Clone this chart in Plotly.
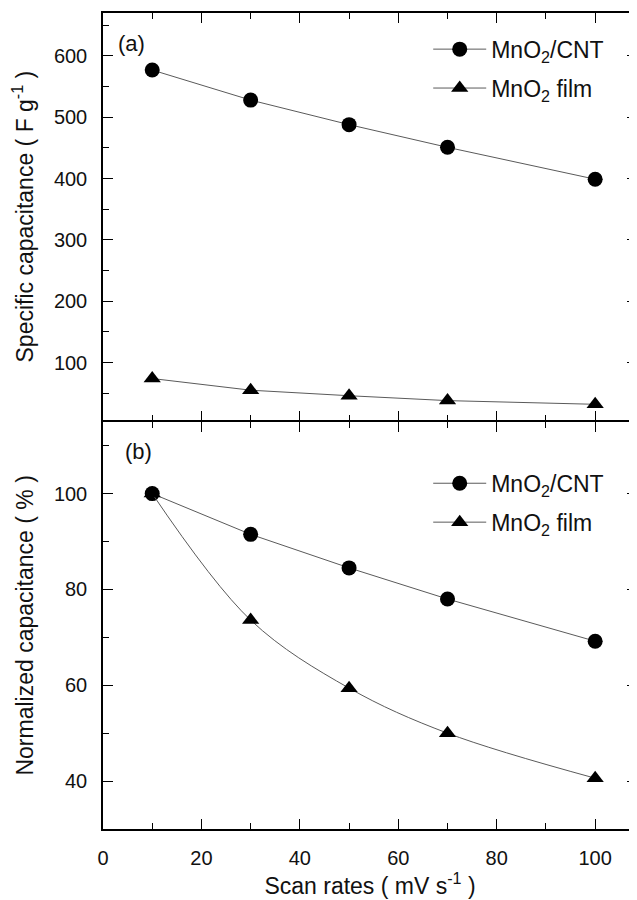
import plotly.graph_objects as go
from plotly.subplots import make_subplots

# Data
scan_rates = [10, 30, 50, 70, 100]
cnt_specific = [577, 528, 488, 451, 399]
film_specific = [74, 55, 46, 38, 32]
cnt_normalized = [100, 91.5, 84.5, 78, 69.2]
film_normalized = [100, 73.6, 59.4, 50, 40.6]

x_tickvals = [0, 20, 40, 60, 80, 100]
top_y_tickvals = [100, 200, 300, 400, 500, 600]
bot_y_tickvals = [40, 60, 80, 100]

FONT = "Liberation Sans, Arial, sans-serif"
LINE_COLOR = "#5a5a5a"

# the page body keeps its default 8px margin, so the figure is sized to fill the rest
FIG_W, FIG_H = 629, 892

fig = make_subplots(rows=2, cols=1, shared_xaxes=True, vertical_spacing=1.5 / 816)

def add(x, y, name, symbol, row, legend, shape="linear"):
    fig.add_trace(go.Scatter(
        x=x, y=y, name=name, mode="lines+markers",
        line=dict(color=LINE_COLOR, width=1, shape=shape),
        marker=dict(symbol=symbol, size=15, color="black", line=dict(width=0)),
        legend=legend, legendgroup=name + legend,
    ), row=row, col=1)

add(scan_rates, cnt_specific, "MnO<sub>2</sub>/CNT", "circle", 1, "legend")
add(scan_rates, film_specific, "MnO<sub>2</sub> film", "triangle-up", 1, "legend")
add(scan_rates, cnt_normalized, "MnO<sub>2</sub>/CNT", "circle", 2, "legend2")
add(scan_rates, film_normalized, "MnO<sub>2</sub> film", "triangle-up", 2, "legend2", shape="spline")

axis_common = dict(
    showline=True, linecolor="black", linewidth=1.5, mirror="ticks",
    ticks="inside", ticklen=10, tickwidth=1.3, tickcolor="black",
    showgrid=False, zeroline=False, automargin=False,
    tickfont=dict(family=FONT, size=20, color="#111"),
    ticklabelstandoff=10,
)

fig.update_xaxes(**axis_common, range=[0, 108.5], tickvals=x_tickvals,
                 minor=dict(dtick=10, ticklen=6, tickwidth=1.3, tickcolor="black", ticks="inside"))
fig.update_xaxes(showticklabels=False, row=1, col=1)
fig.update_xaxes(title=dict(text="Scan rates ( mV s<sup>-1</sup> )",
                            font=dict(family=FONT, size=23, color="#111"), standoff=10),
                 row=2, col=1)

fig.update_yaxes(**axis_common)
fig.update_yaxes(range=[6, 670], tickvals=top_y_tickvals,
                 minor=dict(dtick=50, ticklen=6, tickwidth=1.3, tickcolor="black", ticks="inside"),
                 title=dict(text="Specific capacitance ( F g<sup>-1</sup> )",
                            font=dict(family=FONT, size=23, color="#111"), standoff=14),
                 row=1, col=1)
fig.update_yaxes(range=[30, 115], tickvals=bot_y_tickvals,
                 minor=dict(dtick=10, ticklen=6, tickwidth=1.3, tickcolor="black", ticks="inside"),
                 title=dict(text="Normalized capacitance ( % )",
                            font=dict(family=FONT, size=23, color="#111"), standoff=14),
                 row=2, col=1)

legend_common = dict(
    xanchor="left", yanchor="top", bgcolor="rgba(0,0,0,0)",
    font=dict(family=FONT, size=23, color="#111"), tracegroupgap=6,
    itemwidth=53,
)
fig.update_layout(
    width=FIG_W, height=FIG_H,
    margin=dict(l=95, r=0, t=5, b=71),
    plot_bgcolor="white", paper_bgcolor="white",
    showlegend=True,
    legend=dict(**legend_common, x=0.609, y=0.982),
    legend2=dict(**legend_common, x=0.609, y=0.450),
    annotations=[
        dict(text="(a)", xref="paper", yref="paper", x=0.024, y=0.980, xanchor="left",
             yanchor="top", showarrow=False, font=dict(family=FONT, size=22, color="#111")),
        dict(text="(b)", xref="paper", yref="paper", x=0.037, y=0.480, xanchor="left",
             yanchor="top", showarrow=False, font=dict(family=FONT, size=22, color="#111")),
    ],
)

fig.write_html("out.html")
